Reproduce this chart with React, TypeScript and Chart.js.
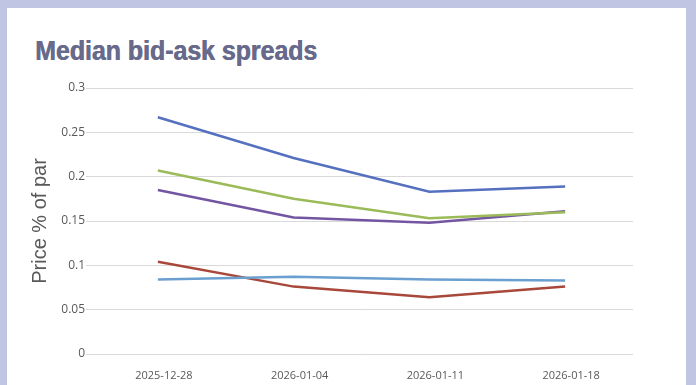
import React, { useEffect, useRef, useState } from "react";
import { Chart, registerables } from "chart.js";

Chart.register(...registerables);

const categories = ["2025-12-28", "2026-01-04", "2026-01-11", "2026-01-18"];
const seriesBlue = [0.267, 0.221, 0.183, 0.189];
const seriesGreen = [0.207, 0.175, 0.153, 0.16];
const seriesPurple = [0.185, 0.154, 0.148, 0.161];
const seriesLightBlue = [0.084, 0.087, 0.084, 0.083];
const seriesRed = [0.104, 0.076, 0.064, 0.076];
const seriesNames = ["Series 1", "Series 2", "Series 3", "Series 4", "Series 5"];
const yTickLabels = ["0", "0.05", "0.1", "0.15", "0.2", "0.25", "0.3"];

const titleText = "Median bid-ask spreads";
const yAxisTitle = "Price % of par";
const TITLE_FONT = "700 28px 'Liberation Sans', Arial, sans-serif";
const TITLE_TARGET_WIDTH = 282;

export default function App() {
  const ref = useRef<HTMLCanvasElement | null>(null);
  const [titleScale, setTitleScale] = useState(0.85);

  useEffect(() => {
    const c = document.createElement("canvas").getContext("2d");
    if (c) {
      c.font = TITLE_FONT;
      const w = c.measureText(titleText).width;
      if (w > 0) setTitleScale(TITLE_TARGET_WIDTH / w);
    }
  }, []);

  useEffect(() => {
    if (!ref.current) return;
    const mk = (label: string, data: number[], color: string) => ({
      label,
      data,
      borderColor: color,
      backgroundColor: color,
      borderWidth: 2.5,
      pointRadius: 0,
      tension: 0,
      fill: false,
    });
    const chart = new Chart(ref.current, {
      type: "line",
      data: {
        labels: categories,
        datasets: [
          mk(seriesNames[0], seriesBlue, "#5470BF"),
          mk(seriesNames[1], seriesGreen, "#9BBB59"),
          mk(seriesNames[2], seriesPurple, "#7455A2"),
          mk(seriesNames[3], seriesLightBlue, "#6A9FCF"),
          mk(seriesNames[4], seriesRed, "#A8483A"),
        ],
      },
      options: {
        responsive: false,
        animation: false,
        devicePixelRatio: 1,
        layout: { padding: { left: 0, right: 63, top: 88, bottom: 0 } },
        plugins: {
          legend: { display: false },
          tooltip: { enabled: false },
        },
        scales: {
          x: {
            type: "category",
            offset: true,
            grid: { display: false },
            border: { display: false },
            ticks: {
              padding: 7,
              labelOffset: 6,
              maxRotation: 0,
              autoSkip: false,
              color: "#595959",
              font: { family: "'Open Sans', sans-serif", size: 11 },
            },
            afterFit: (scale: any) => {
              scale.height = 31;
            },
          },
          y: {
            min: 0,
            max: 0.3,
            grid: { color: "#D9D9D9", lineWidth: 1, tickLength: 4 },
            border: { display: false },
            ticks: {
              stepSize: 0.05,
              padding: 1,
              color: "#595959",
              font: { family: "'Open Sans', sans-serif", size: 12 },
              callback: (_v: any, i: number) => yTickLabels[i],
            },
            title: {
              display: true,
              text: yAxisTitle,
              color: "#595959",
              padding: { top: 28, bottom: 0 },
              font: { family: "'Liberation Sans', Arial, sans-serif", size: 20 },
            },
            afterFit: (scale: any) => {
              scale.width = 90;
            },
          },
        },
      },
    });
    return () => chart.destroy();
  }, []);

  return (
    <div
      style={{
        position: "fixed",
        left: 0,
        top: 0,
        width: 696,
        height: 385,
        background: "#BFC5E3",
        overflow: "hidden",
      }}
    >
      <div
        style={{
          position: "absolute",
          left: 7,
          top: 8,
          width: 679,
          height: 377,
          background: "#FFFFFF",
        }}
      />
      <div
        style={{
          position: "absolute",
          left: 35,
          top: 37,
          font: TITLE_FONT,
          lineHeight: "28px",
          color: "#686A8C",
          textShadow: "0.7px 0 0 #686A8C",
          whiteSpace: "nowrap",
          transform: `scaleX(${titleScale})`,
          transformOrigin: "left top",
        }}
      >
        {titleText}
      </div>
      <canvas
        ref={ref}
        width={696}
        height={385}
        style={{ position: "absolute", left: 0, top: 0, width: 696, height: 385 }}
      />
    </div>
  );
}
